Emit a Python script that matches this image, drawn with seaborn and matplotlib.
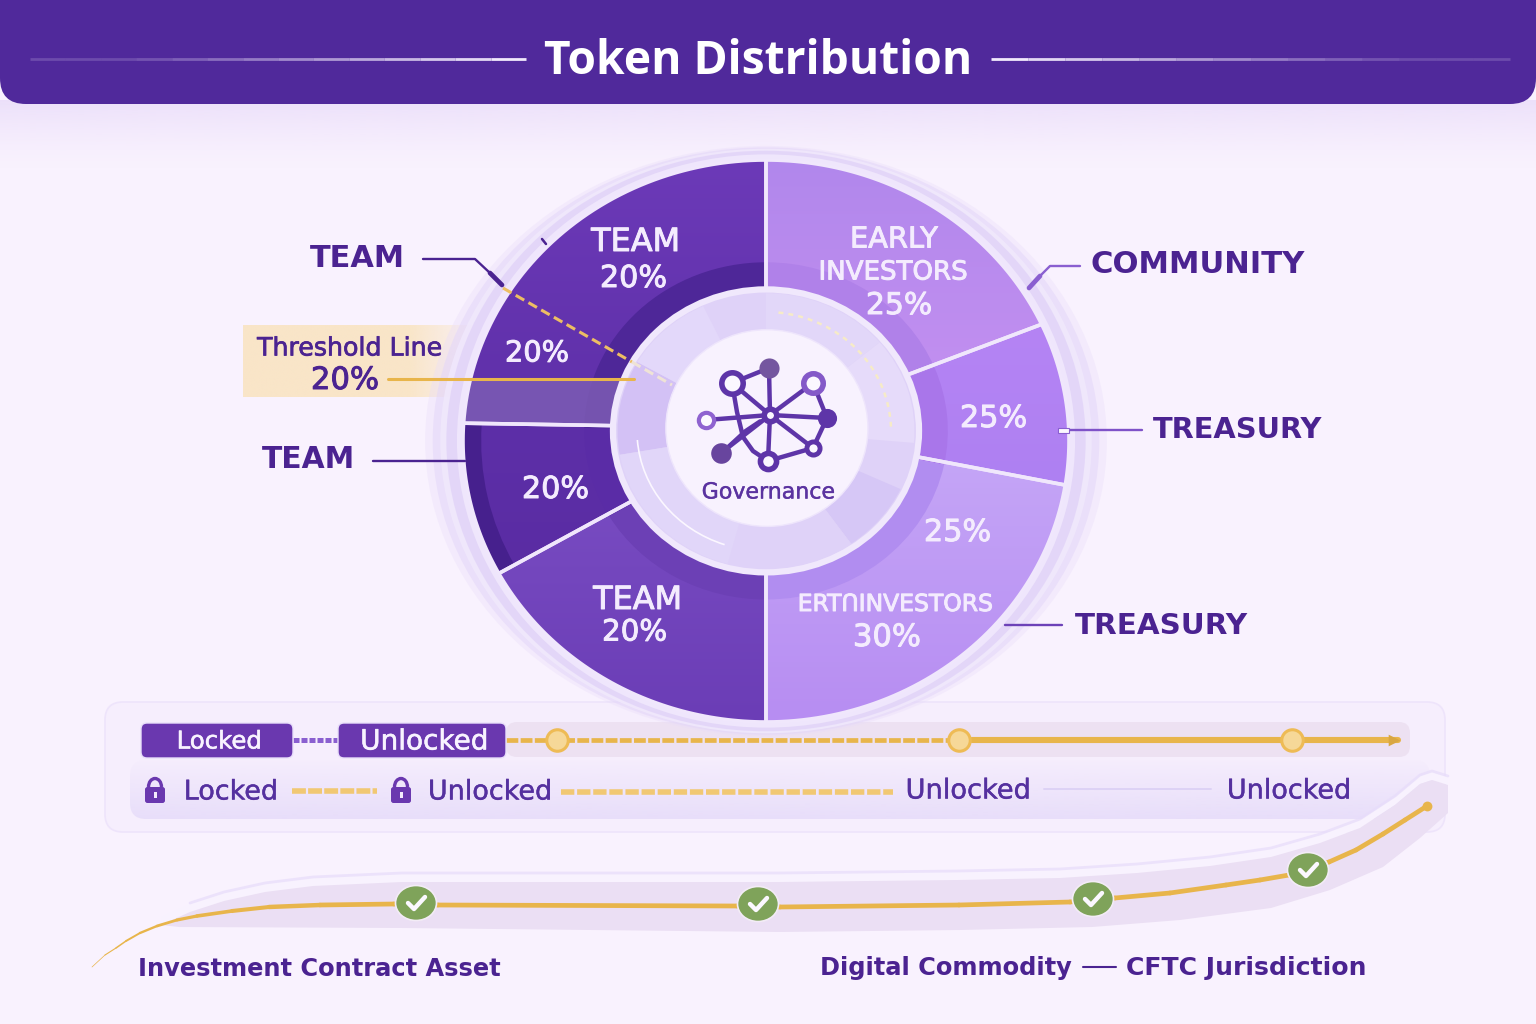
import numpy as np
import matplotlib
matplotlib.use("Agg")
import matplotlib.pyplot as plt
import matplotlib.patheffects as pe
from matplotlib.colors import to_rgb
from matplotlib.path import Path
from matplotlib.patches import Ellipse, FancyBboxPatch, Rectangle, Arc, Wedge, PathPatch
import seaborn as sns

# ---------- data ----------
slice_names = ["Early Investors", "Treasury A", "Treasury B", "Team A", "Team B", "Team C"]
slice_shares = [67.9, 33.7, 78.4, 59.6, 31.4, 89.0]
rim_shares = [65.5, 33.5, 81.0, 62.0, 31.7, 86.3]
grad_top = ["#B187EC", "#B584F4", "#C6A8F7", "#7C50C5", "#5D2FA8", "#6C3AB8"]
grad_bot = ["#C691F1", "#AE80F2", "#B78DF2", "#6B3DB6", "#5A2CA3", "#5E2FA8"]
inner_ring = ["#B081E9", "#A976EA", "#B18DF0", "#6C40B5", "#5A2CA6", "#4E2798"]
outer_ring = ["none", "none", "none", "none", "#46208D", "none"]

locked_x = [293, 338]
timeline_dash_x = [506, 950]
timeline_solid_x = [972, 1398]
timeline_y = [740, 740]
milestone_x = [557, 959, 1292]
milestone_y = [740, 740, 740]

curve_x = [92, 105, 116, 126, 140, 157, 177, 197, 232, 269, 320, 394, 438, 737, 780, 959, 1070,
           1115, 1170, 1226, 1260, 1289, 1329, 1356, 1383, 1405, 1427]
curve_y = [967, 955, 948, 941, 933, 926, 920, 916, 911, 907, 905, 904, 905, 906, 907, 905, 902,
           898, 893, 885, 880, 875, 862, 850, 834, 820, 806]
band_top_x = [161, 190, 224, 265, 313, 402, 780, 958, 1060, 1137, 1210, 1271, 1320, 1360, 1395, 1420, 1432, 1448]
band_top_y = [925, 912, 901, 892, 886, 882, 882, 880, 878, 873, 866, 857, 843, 828, 805, 784, 780, 785]
band_bot_x = [1448, 1420, 1383, 1330, 1271, 1180, 1092, 960, 780, 402, 179]
band_bot_y = [813, 838, 867, 890, 908, 920, 927, 930, 932, 928, 927]
check_x = [416, 758, 1093, 1308]
check_y = [903, 904, 899, 870]

node_names = ["hub", "A", "B", "C", "D", "E", "F", "G", "H"]
node_x = [770, 732, 769, 813, 827, 706, 721, 768, 813]
node_y = [415, 383, 368, 383, 418, 420, 453, 461, 448]
edges = [("A", "B"), ("B", "hub"), ("A", "hub"), ("C", "hub"), ("C", "D"), ("D", "H"), ("hub", "D"),
         ("hub", "E"), ("hub", "F"), ("hub", "G"), ("hub", "H"), ("G", "H")]

DARK = "#4B2391"
GOLD = "#E8B54B"

# ---------- canvas ----------
sns.set_theme(style="white")
plt.rcParams["font.family"] = ["DejaVu Sans"]
W, H = 1536, 1024
fig = plt.figure(figsize=(W / 100, H / 100), dpi=100, facecolor="#F9F2FE")
renderer = fig.canvas.get_renderer()

bg = fig.add_axes([0, 0, 1, 1], zorder=0)
ov = fig.add_axes([0, 0, 1, 1], zorder=2)
for a in (bg, ov):
    a.set_xlim(0, W)
    a.set_ylim(H, 0)
    a.axis("off")
    a.patch.set_alpha(0)


def vfade(ax, color, extent, a0, a1, zorder, clip=None, power=1.0):
    arr = np.ones((120, 1, 4))
    arr[..., :3] = to_rgb(color)
    arr[:, 0, 3] = np.linspace(a0, a1, 120) ** power
    im = ax.imshow(arr, extent=extent, aspect="auto", zorder=zorder, interpolation="bilinear")
    if clip is not None:
        im.set_clip_path(clip)
    return im


# soft shadow under header
vfade(bg, "#E8DAF9", (0, W, 170, 100), 0.8, 0, 1, power=1.4)

# header
bg.add_patch(FancyBboxPatch((0, -60), W, 164, boxstyle="round,pad=0,rounding_size=26",
                            fc="#50299B", ec="none", zorder=3))
for x0, x1, flip in [(30, 526, False), (991, 1510, True)]:
    cuts = np.linspace(x0, x1, 15)
    for i in range(14):
        al = (i + 1) / 14 if not flip else (14 - i) / 14
        sns.lineplot(x=cuts[i:i + 2], y=[59, 59], color="#F1E9FC", lw=2, alpha=max(al ** 1.2, 0.18),
                     ax=ov, solid_capstyle="butt")

# threshold tag (fades to the right)
t = np.ones((1, 120, 4))
t[..., :3] = to_rgb("#F9E5C5")
t[0, :, 3] = np.r_[np.full(80, 0.95), np.linspace(0.95, 0, 40)]
bg.imshow(t, extent=(243, 490, 397, 325), aspect="auto", zorder=4, interpolation="bilinear")

# lower panels
panel = FancyBboxPatch((105, 702), 1340, 130, boxstyle="round,pad=0,rounding_size=18",
                       fc="#F6EEFD", ec="#EEE4FB", lw=1.2, zorder=2)
bg.add_patch(panel)
inner = FancyBboxPatch((130, 760), 1300, 59, boxstyle="round,pad=0,rounding_size=16",
                       fc="none", ec="none", zorder=3)
bg.add_patch(inner)
vfade(bg, "#E8DEFA", (130, 1430, 819, 760), 0.05, 1, 3, clip=inner)
bg.add_patch(FancyBboxPatch((506, 722), 904, 35, boxstyle="round,pad=0,rounding_size=11",
                            fc="#EDE1F2", ec="none", zorder=4))

# ---------- pie ----------
cx, cy, rx, ry = 766, 441, 303, 281
k = 1.32
pie = fig.add_axes([(cx - rx * k) / W, 1 - (cy + ry * k) / H, 2 * rx * k / W, 2 * ry * k / H], zorder=1)
pie.patch.set_alpha(0)


def fix_limits():
    pie.set_aspect("auto")
    pie.set_xlim(-k, k)
    pie.set_ylim(-k, k)


for rxx, ryy, c, al in [(1.125, 1.05, "#E8DCFA", .35), (1.10, 1.045, "#E3D6F9", .55), (1.075, 1.04, "#F0E8FC", .9),
                        (1.055, 1.033, "#DFD0F8", .7), (1.02, 1.02, "#EFE6FC", 1)]:
    pie.add_patch(Ellipse((0, 0), 2 * rxx, 2 * ryy, fc=c, ec="none", alpha=al))

spoke_c = (0, 0.046)
base, _ = pie.pie(slice_shares, colors=grad_bot, startangle=90, counterclock=False, radius=1.15, center=spoke_c,
                  wedgeprops=dict(edgecolor="none", linewidth=0))
fix_limits()


def ray_to_rim(theta):
    """Point where a ray from the spoke centre meets the unit rim."""
    dx, dy = np.cos(np.radians(theta)), np.sin(np.radians(theta))
    b = spoke_c[0] * dx + spoke_c[1] * dy
    c = spoke_c[0] ** 2 + spoke_c[1] ** 2 - 1
    s = -b + np.sqrt(b * b - c)
    return spoke_c[0] + s * dx, spoke_c[1] + s * dy


clips = []
for w in base:
    pts = [spoke_c] + [ray_to_rim(a) for a in np.linspace(w.theta1, w.theta2, 60)] + [spoke_c]
    clips.append(Path(pts))
    w.set_visible(False)

rim, _ = pie.pie(rim_shares, colors=outer_ring, startangle=90, counterclock=False, radius=1,
                 wedgeprops=dict(width=0.06, edgecolor="none", linewidth=0))
ringw, _ = pie.pie(slice_shares, colors=inner_ring, startangle=90, counterclock=False, radius=0.6, center=(0, 0.036),
                   wedgeprops=dict(width=0.12, edgecolor="none", linewidth=0))
for w in list(rim) + list(ringw):
    w.set_zorder(1.6)
fix_limits()

# wedge fills: vertical colour gradient clipped to each wedge
for clip, c0, c1 in zip(clips, grad_top, grad_bot):
    ext = clip.get_extents()
    arr = np.linspace(to_rgb(c0), to_rgb(c1), 100)[:, None, :]
    im = pie.imshow(arr, extent=(ext.x0, ext.x1, ext.y0, ext.y1), aspect="auto", zorder=1.3, interpolation="bilinear")
    im.set_clip_path(clip, pie.transData)
    pie.add_patch(PathPatch(clip, fc="none", ec="#F0E7FC", lw=2.6, zorder=2, joinstyle="round"))
fix_limits()

# lighter threshold zone inside the Team C wedge
zone = Rectangle((-1.1, 0.064), 0.85, 0.157, fc="#7C5CB4", ec="none", alpha=0.85, zorder=1.8)
pie.add_patch(zone)
zone.set_clip_path(clips[5], pie.transData)

# centre disc
hub_c = (0, 0.036)
pie.add_patch(Ellipse(hub_c, 1.01, 1.007, fc="#DFD2F8", ec="#F0E8FC", lw=4.5, zorder=3))
for t1, t2, c in [(150, 190, "#D3C1F5"), (115, 150, "#E3D8FA"), (40, 90, "#E2D7F9"), (-5, 40, "#E6DBFA"),
                  (-55, -25, "#D6C7F6"), (-90, -55, "#DFD2F8"), (190, 255, "#E1D6F9")]:
    pie.add_patch(Wedge(hub_c, 0.49, t1, t2, fc=c, ec="none", zorder=3.1))
pie.add_patch(Ellipse((0.003, 0.046), 0.667, 0.70, fc="#F8F2FE", ec="#EEE5FC", lw=1, zorder=3.2))
fix_limits()
pie.axis("off")

ov.add_patch(Arc((766, 431), 250, 238, theta1=-84, theta2=-2, color="#F6EBC8", lw=1.8, ls=(0, (2, 2))))
ov.add_patch(Arc((766, 431), 258, 240, theta1=110, theta2=176, color="#FBF7FF", lw=1.2))

# governance network
ln = dict(sort=False, estimator=None, ax=ov)
pos = dict(zip(node_names, zip(node_x, node_y)))
NET = "#5E35A8"
for p, q in edges:
    sns.lineplot(x=[pos[p][0], pos[q][0]], y=[pos[p][1], pos[q][1]], color=NET, lw=3.2, **ln)
sns.lineplot(x=[732, 737, 743, 753, 768], y=[383, 412, 437, 451, 461], color=NET, lw=3.2, **ln)
sns.lineplot(x=[721, 732, 745, 760], y=[453, 443, 431, 421], color=NET, lw=2.6, **ln)
ring_nodes = {"hub": (81, 4, NET), "A": (237, 4, "#5E35A8"), "C": (196, 4, "#8459C8"), "E": (121, 3, "#8F63D0"),
              "G": (135, 4, "#5E35A8"), "H": (90, 3.5, "#5E35A8")}
solid_nodes = {"B": (210, "#74569F"), "D": (190, "#5E35A8"), "F": (220, "#68459E")}
for name, (sz, lw_, col) in ring_nodes.items():
    sns.scatterplot(x=[pos[name][0]], y=[pos[name][1]], s=sz, color="#FBF8FF",
                    edgecolor=col, linewidth=lw_, ax=ov, zorder=5, legend=False)
for name, (sz, col) in solid_nodes.items():
    sns.scatterplot(x=[pos[name][0]], y=[pos[name][1]], s=sz, color=col,
                    linewidth=0, ax=ov, zorder=5, legend=False)

# ---------- leader lines ----------
sns.lineplot(x=[423, 475, 490], y=[259, 259, 273], color=DARK, lw=1.7, **ln)
sns.lineplot(x=[490, 502], y=[273, 285], color=DARK, lw=3.4, **ln)
sns.lineplot(x=[542, 546], y=[239, 244], color=DARK, lw=1.8, **ln)
sns.lineplot(x=[373, 465], y=[461, 461], color=DARK, lw=1.7, **ln)
sns.lineplot(x=[1080, 1050, 1040], y=[266, 266, 276], color="#8A5FD0", lw=1.7, **ln)
sns.lineplot(x=[1040, 1029], y=[276, 288], color="#8A5FD0", lw=3.4, **ln)
sns.lineplot(x=[1060, 1142], y=[430, 430], color="#7F52C8", lw=1.7, **ln)
ov.add_patch(Rectangle((1058, 428), 11, 4.5, fc="#FBF8FF", ec="#8A5FD0", lw=0.8, zorder=6))
sns.lineplot(x=[1005, 1062], y=[625, 625], color="#6D42B8", lw=1.7, **ln)
sns.lineplot(x=[503, 632], y=[288, 362], color="#EDBE63", lw=2.2, linestyle=(0, (3.2, 1.6)), **ln)
sns.lineplot(x=[632, 672], y=[362, 385], color="#EFE3D6", lw=2.2, linestyle=(0, (3.2, 1.6)), **ln)
sns.lineplot(x=[388, 634], y=[379, 379], color=GOLD, lw=2.2, **ln)

# ---------- unlock timeline ----------
for (x, wd) in [(141, 152), (338, 168)]:
    ov.add_patch(FancyBboxPatch((x, 723), wd, 35, boxstyle="round,pad=0,rounding_size=6",
                                fc="#6A38AF", ec="#E9DFFA", lw=1, zorder=4))
sns.lineplot(x=locked_x, y=timeline_y, color="#8A5FD0", lw=3.6, linestyle=(0, (1.2, 0.4)), **ln)
sns.lineplot(x=timeline_dash_x, y=timeline_y, color=GOLD, lw=3.4, linestyle=(0, (2.5, 0.5)), **ln)
sns.lineplot(x=timeline_solid_x, y=timeline_y, color=GOLD, lw=4.4, **ln)
sns.scatterplot(x=[1394], y=[740], marker=">", s=70, color="#D9A742", linewidth=0, ax=ov, zorder=4, legend=False)
sns.scatterplot(x=milestone_x, y=milestone_y, s=240, color="#F6D898", edgecolor="#EEBB55", linewidth=2.2,
                ax=ov, zorder=5, legend=False)

# legend row
sns.lineplot(x=[292, 377], y=[791, 791], color="#F1C873", lw=4, linestyle=(0, (2.5, 0.4)), **ln)
sns.lineplot(x=[561, 893], y=[792, 792], color="#F1C873", lw=4, linestyle=(0, (2.4, 0.5)), **ln)
sns.lineplot(x=[1044, 1211], y=[789, 789], color="#DDD2F5", lw=1.4, **ln)
for lx in (155, 401):
    ov.add_patch(FancyBboxPatch((lx - 10, 787), 20, 16, boxstyle="round,pad=0,rounding_size=2.5",
                                fc="#6A38AF", ec="none", zorder=4))
    ov.add_patch(Arc((lx, 787), 13, 17, theta1=180, theta2=360, color="#6A38AF", lw=2.4, zorder=4))
    ov.add_patch(Rectangle((lx - 1.5, 792), 3, 6, fc="#F4ECFD", ec="none", zorder=5))

# ---------- regulation curve ----------
poly_x = band_top_x + band_bot_x
poly_y = band_top_y + band_bot_y
halo_y = [v - 8 for v in band_top_y]
bg.fill(band_top_x + band_top_x[::-1], halo_y + band_top_y[::-1], fc="#F8F2FE", ec="none", zorder=5)
sns.lineplot(x=band_top_x[1:], y=[v - 9 for v in band_top_y[1:]], sort=False, estimator=None, color="#E7DCFA",
             lw=2.0, alpha=0.7, ax=bg, zorder=5)
bg.fill(poly_x, poly_y, fc="#EBDFF4", ec="none", zorder=6)
n = len(curve_x)
for i in range(n - 1):
    sns.lineplot(x=curve_x[i:i + 2], y=curve_y[i:i + 2], color=GOLD, lw=min(3.4, 0.5 + i * 0.3),
                 solid_capstyle="round", **ln)
sns.scatterplot(x=[curve_x[-1]], y=[curve_y[-1]], s=50, color=GOLD, linewidth=0, ax=ov, zorder=4, legend=False)
for x, y in zip(check_x, check_y):
    ov.add_patch(Ellipse((x, y), 41, 35, fc="#7FA35A", ec="#F3ECF6", lw=1.2, zorder=5))
    sns.lineplot(x=[x - 8, x - 2, x + 9], y=[y + 0, y + 6, y - 6], sort=False, estimator=None,
                 color="#FBF8FF", lw=3.2, ax=ov, zorder=6)


# ---------- text (size fitted to the horizontal extent) ----------
def label(s, x0, x1, yc, color=DARK, weight="normal", family="DejaVu Sans", stroke=0.0, dy=1.5):
    t = ov.text((x0 + x1) / 2, yc + dy, s, ha="center", va="center", color=color, fontweight=weight,
                family=family, fontsize=20, zorder=8)
    wd = t.get_window_extent(renderer).width
    t.set_fontsize(20 * (x1 - x0) / wd)
    if stroke:
        t.set_path_effects([pe.withStroke(linewidth=stroke, foreground=color)])
    return t


label("Token Distribution", 544, 972, 61, "#FFFFFF", "bold", "Open Sans", dy=0)
label("TEAM", 310, 405, 257, DARK, "bold")
label("TEAM", 262, 355, 458, DARK, "bold")
label("COMMUNITY", 1091, 1305, 263, DARK, "bold")
label("TREASURY", 1153, 1323, 429, DARK, "bold")
label("TREASURY", 1075, 1248, 624, DARK, "bold")
label("Threshold Line", 257, 442, 347, stroke=0.5)
label("20%", 311, 379, 379, stroke=0.7)
for s, x0, x1, y in [("TEAM", 591, 680, 241), ("20%", 600, 667, 277), ("EARLY", 850, 938, 238),
                     ("INVESTORS", 819, 968, 271), ("25%", 866, 932, 304), ("25%", 960, 1027, 417),
                     ("25%", 924, 991, 531), ("ERTՈINVESTORS", 798, 993, 603), ("30%", 853, 921, 636),
                     ("TEAM", 593, 682, 599), ("20%", 602, 667, 631), ("20%", 522, 589, 488),
                     ("20%", 505, 569, 352)]:
    label(s, x0, x1, y, "#F4ECFE", stroke=0.7)
label("Governance", 702, 835, 491, "#5B33A0", stroke=0.3)
label("Locked", 177, 262, 740, "#F8F3FF", stroke=0.4)
label("Unlocked", 360, 488, 740, "#F8F3FF", stroke=0.4)
label("Locked", 184, 278, 791, "#55309F", stroke=0.3)
label("Unlocked", 428, 552, 791, "#55309F", stroke=0.3)
label("Unlocked", 906, 1031, 790, "#55309F", stroke=0.3)
label("Unlocked", 1227, 1351, 790, "#55309F", stroke=0.3)
label("Investment Contract Asset", 137, 501, 967, DARK, "bold")
label("Digital Commodity", 819, 1072, 967, DARK, "bold")
sns.lineplot(x=[1083, 1116], y=[967, 967], color=DARK, lw=1.5, **ln)
label("CFTC Jurisdiction", 1126, 1367, 967, DARK, "bold")

for a in (bg, ov):
    a.set_xlim(0, W)
    a.set_ylim(H, 0)
    a.axis("off")
fix_limits()
fig.savefig("out.png", dpi=100, facecolor=fig.get_facecolor())
